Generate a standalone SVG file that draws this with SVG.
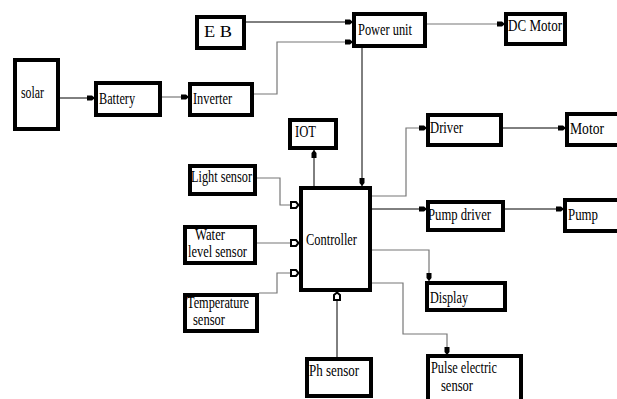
<svg xmlns="http://www.w3.org/2000/svg" width="617" height="399" viewBox="0 0 617 399">
<style>
.box{fill:#fff;stroke:#000;stroke-width:4}
text{font-family:'Liberation Serif','Times New Roman',serif;font-size:16px;fill:#000}
.ln{fill:none;stroke:#000;stroke-width:1}
.g{fill:none;stroke:#777;stroke-width:1.2}
</style>
<defs>
<marker id="af" markerUnits="userSpaceOnUse" markerWidth="10" markerHeight="8" refX="8" refY="3.5" orient="auto" overflow="visible">
<path d="M0,1 L5,1 L8,3.5 L5,6 L0,6 Z" fill="#000"/>
</marker>
<marker id="ah" markerUnits="userSpaceOnUse" markerWidth="11" markerHeight="9" refX="9" refY="4" orient="auto" overflow="visible">
<path d="M1,1 L6,1 L8.5,4 L6,7 L1,7 Z" fill="#fff" stroke="#000" stroke-width="2"/>
</marker>
</defs>
<rect width="617" height="399" fill="#fff"/>
<g id="connectors">
<path class="ln" d="M60,98 H95" marker-end="url(#af)"/>
<path class="g" d="M162,97 H189" marker-end="url(#af)"/>
<path class="ln" d="M246,22 H353" marker-end="url(#af)"/>
<path class="g" d="M254,94 H277 V42 H353" marker-end="url(#af)"/>
<path class="g" d="M427,24 H505" marker-end="url(#af)"/>
<path class="ln" d="M362,48 V186" marker-end="url(#af)"/>
<path class="ln" d="M314,186 V150" marker-end="url(#af)"/>
<path class="g" d="M257,178 H280 V205 H299" marker-end="url(#ah)"/>
<path class="g" d="M257,243 H299" marker-end="url(#ah)"/>
<path class="g" d="M259,293 H277 V273 H299" marker-end="url(#ah)"/>
<path class="ln" d="M337,357 V292" marker-end="url(#ah)"/>
<path class="g" d="M372,196 H406 V128 H427" marker-end="url(#af)"/>
<path class="ln" d="M503,128 H566" marker-end="url(#af)"/>
<path class="ln" d="M372,209 H427" marker-end="url(#af)"/>
<path class="ln" d="M505,209 H564" marker-end="url(#af)"/>
<path class="g" d="M372,250 H429 V281" marker-end="url(#af)"/>
<path class="g" d="M372,283 H403 V334 H447 V355" marker-end="url(#af)"/>
</g>
<g id="eb"><rect class="box" x="197" y="17" width="47" height="31"/><text x="204" y="37" textLength="28" lengthAdjust="spacingAndGlyphs">E B</text></g>
<g id="solar"><rect class="box" x="15" y="60" width="43" height="69"/><text x="21" y="98" textLength="23" lengthAdjust="spacingAndGlyphs">solar</text></g>
<g id="battery"><rect class="box" x="96" y="83" width="64" height="32"/><text x="99" y="104" textLength="36" lengthAdjust="spacingAndGlyphs">Battery</text></g>
<g id="inverter"><rect class="box" x="190" y="84" width="62" height="31"/><text x="193" y="104" textLength="39" lengthAdjust="spacingAndGlyphs">Inverter</text></g>
<g id="power-unit"><rect class="box" x="354" y="14" width="71" height="32"/><text x="358" y="35" textLength="54" lengthAdjust="spacingAndGlyphs">Power unit</text></g>
<g id="dc-motor"><rect class="box" x="506" y="14" width="59" height="30"/><text x="508" y="31" textLength="54" lengthAdjust="spacingAndGlyphs">DC Motor</text></g>
<g id="iot"><rect class="box" x="290" y="120" width="46" height="28"/><text x="295" y="137" textLength="21" lengthAdjust="spacingAndGlyphs">IOT</text></g>
<g id="light-sensor"><rect class="box" x="190" y="166" width="65" height="28"/><text x="191" y="182" textLength="61" lengthAdjust="spacingAndGlyphs">Light sensor</text></g>
<g id="controller"><rect class="box" x="301" y="188" width="69" height="102"/><text x="306" y="245" textLength="51" lengthAdjust="spacingAndGlyphs">Controller</text></g>
<g id="water-level-sensor"><rect class="box" x="185" y="227" width="70" height="36"/><text x="195" y="240" textLength="30" lengthAdjust="spacingAndGlyphs">Water</text><text x="188" y="257" textLength="59" lengthAdjust="spacingAndGlyphs">level sensor</text></g>
<g id="temperature-sensor"><rect class="box" x="185" y="295" width="72" height="36"/><text x="187" y="308" textLength="62" lengthAdjust="spacingAndGlyphs">Temperature</text><text x="193" y="325" textLength="32" lengthAdjust="spacingAndGlyphs">sensor</text></g>
<g id="ph-sensor"><rect class="box" x="307" y="359" width="64" height="37"/><text x="309" y="376" textLength="50" lengthAdjust="spacingAndGlyphs">Ph sensor</text></g>
<g id="driver"><rect class="box" x="428" y="115" width="73" height="30"/><text x="430" y="133" textLength="33" lengthAdjust="spacingAndGlyphs">Driver</text></g>
<g id="motor"><rect class="box" x="567" y="114" width="60" height="31"/><text x="570" y="134" textLength="34" lengthAdjust="spacingAndGlyphs">Motor</text></g>
<g id="pump-driver"><rect class="box" x="428" y="202" width="75" height="28"/><text x="428" y="220" textLength="63" lengthAdjust="spacingAndGlyphs">Pump driver</text></g>
<g id="pump"><rect class="box" x="565" y="200" width="60" height="31"/><text x="568" y="220" textLength="30" lengthAdjust="spacingAndGlyphs">Pump</text></g>
<g id="display"><rect class="box" x="427" y="283" width="78" height="27"/><text x="430" y="303" textLength="38" lengthAdjust="spacingAndGlyphs">Display</text></g>
<g id="pulse-electric-sensor"><rect class="box" x="428" y="356" width="93" height="50"/><text x="431" y="373" textLength="66" lengthAdjust="spacingAndGlyphs">Pulse electric</text><text x="441" y="391" textLength="32" lengthAdjust="spacingAndGlyphs">sensor</text></g>
</svg>
